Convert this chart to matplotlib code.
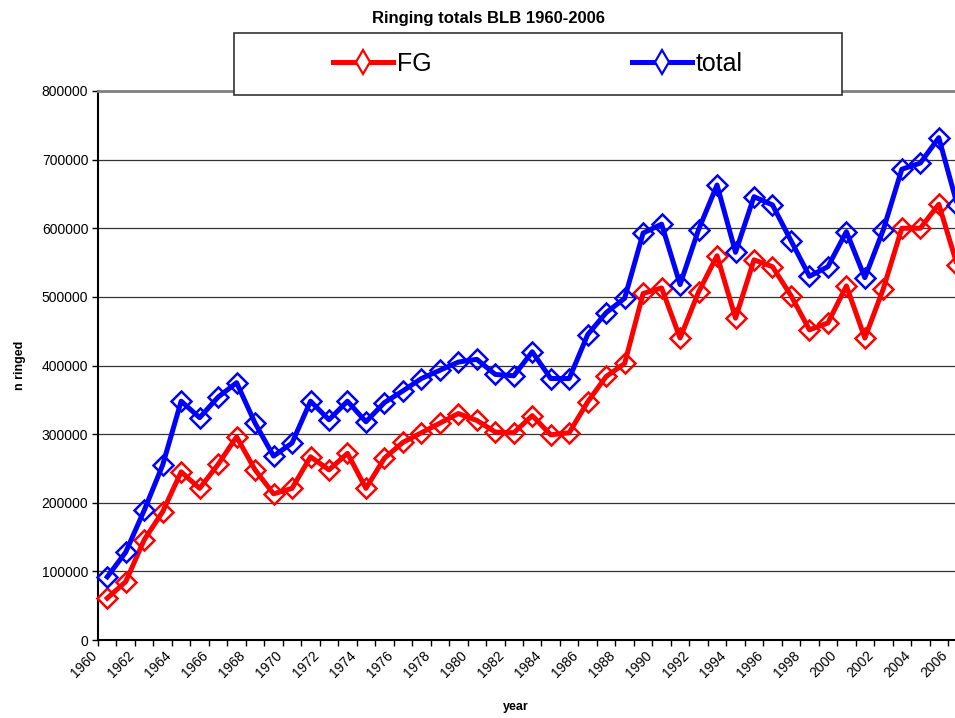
import matplotlib
matplotlib.use("Agg")
import matplotlib.pyplot as plt
from matplotlib.lines import Line2D
from matplotlib.patches import Rectangle
import matplotlib.transforms as mtransforms
import numpy as np

plt.rcParams['font.family'] = ['Liberation Sans', 'DejaVu Sans']

years = list(range(1960, 2007))
fg = [61000, 85000, 146000, 187000, 245000, 221000, 256000, 296000, 248000, 213000,
      221000, 267000, 248000, 272000, 221000, 265000, 288000, 302000, 316000, 330000,
      320000, 303000, 302000, 327000, 299000, 302000, 347000, 384000, 403000, 505000,
      513000, 440000, 507000, 560000, 469000, 554000, 544000, 502000, 452000, 462000,
      516000, 440000, 512000, 600000, 600000, 635000, 546000]
total = [92000, 128000, 189000, 255000, 348000, 324000, 354000, 375000, 316000, 268000,
         287000, 348000, 321000, 348000, 318000, 346000, 363000, 381000, 393000, 405000,
         409000, 387000, 385000, 420000, 381000, 381000, 445000, 477000, 498000, 593000,
         606000, 518000, 598000, 663000, 565000, 646000, 634000, 582000, 530000, 544000,
         595000, 528000, 598000, 686000, 695000, 732000, 634000]
yticks = [0, 100000, 200000, 300000, 400000, 500000, 600000, 700000, 800000]

W, H = 955, 718
fig = plt.figure(figsize=(W / 100, H / 100), dpi=100)
ax = fig.add_axes([98 / W, 78 / H, 868.5 / W, 549 / H])

x = np.arange(len(years))
ax.plot(x, fg, color='#ff0000', lw=3.6, marker='D', ms=10, mew=1.8,
        mfc='none', mec='#ff0000', zorder=3, clip_on=False)
ax.plot(x, total, color='#0000ff', lw=3.6, marker='D', ms=10, mew=1.8,
        mfc='none', mec='#0000ff', zorder=3, clip_on=False)

ax.set_xlim(-0.5, len(years) - 0.5)
ax.set_ylim(0, 800000)
ax.set_yticks(yticks)
ax.set_yticklabels([str(v) for v in yticks], fontsize=10)
ax.grid(axis='y', color='#333333', lw=0.9, zorder=1)
ax.set_axisbelow(True)

ax.set_xticks(np.arange(-0.5, len(years), 1.0))
ax.set_xticklabels([])
ax.set_xticks(x[::2], minor=True)
ax.set_xticklabels([str(y) for y in years[::2]], minor=True, rotation=45,
                   ha='right', va='top', fontsize=10)
ax.tick_params(axis='x', which='major', direction='out', length=4, width=1, color='black')
ax.tick_params(axis='x', which='minor', length=0, pad=6)
ax.tick_params(axis='y', direction='out', length=4, width=1, pad=3)
offset = mtransforms.ScaledTranslation(-7 / 100, 0, fig.dpi_scale_trans)
for lab in ax.xaxis.get_minorticklabels():
    lab.set_transform(lab.get_transform() + offset)

for s in ['left', 'bottom']:
    ax.spines[s].set_color('black')
    ax.spines[s].set_linewidth(1.5)
ax.spines['top'].set_color('#808080')
ax.spines['top'].set_linewidth(2)
ax.spines['right'].set_color('#808080')

ax.set_ylabel('n ringed', fontsize=9, fontweight='bold')
ax.yaxis.set_label_coords(-72 / 868.5, 0.5)
ax.set_xlabel('year', fontsize=9, fontweight='bold')
ax.xaxis.set_label_coords((516 - 98) / 868.5, -61 / 549)

fig.text(488 / W, 1 - 18 / H, 'Ringing totals BLB 1960-2006', ha='center', va='center',
         fontsize=12, fontweight='bold')

# legend box
fig.patches.append(Rectangle((234 / W, 1 - 95 / H), 608 / W, 62 / H,
                             transform=fig.transFigure, facecolor='white',
                             edgecolor='#333333', lw=1.2, zorder=5))
h1 = Line2D([], [], color='#ff0000', lw=3.6, marker='d', ms=12, mew=1.6,
            mfc='white', mec='#ff0000')
h2 = Line2D([], [], color='#0000ff', lw=3.6, marker='d', ms=12, mew=1.6,
            mfc='white', mec='#0000ff')
for h, lab, x0 in [(h1, 'FG', 333), (h2, 'total', 632)]:
    lg = fig.legend(handles=[h], labels=[lab], loc='center left',
                    bbox_to_anchor=(x0 / W, 1 - 64 / H), frameon=False,
                    fontsize=18, handlelength=2.4, handletextpad=0.16,
                    borderpad=0, borderaxespad=0)
    lg.set_zorder(6)

fig.savefig('out.png', dpi=100)
